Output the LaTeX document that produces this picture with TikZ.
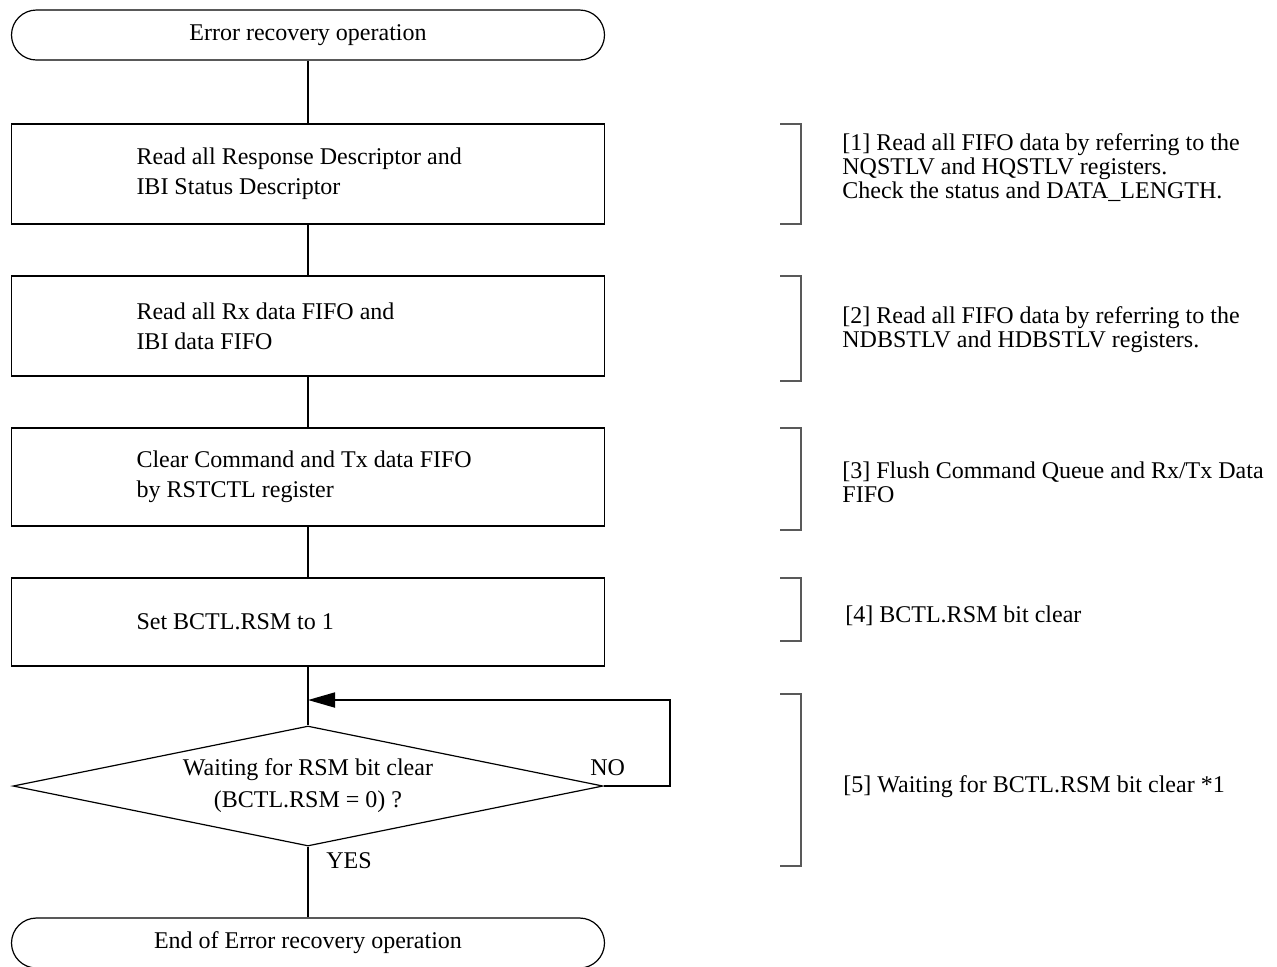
\documentclass[tikz,border=0pt]{standalone}
\usepackage{fontspec}
\setmainfont{Liberation Serif}
\usetikzlibrary{shapes.geometric,arrows.meta}

\begin{document}
\begin{tikzpicture}[
  x=0.5pt, y=-0.5pt,
  term/.style={rectangle, rounded corners=12.5pt, draw, line width=0.6pt, minimum width=296.5pt, minimum height=25pt},
  block/.style={rectangle, draw, line width=0.6pt, minimum width=296.5pt, text width=171.5pt, inner xsep=62.5pt, align=flush left},
  decision/.style={diamond, draw, line width=0.6pt, aspect=4.9, minimum width=295pt, minimum height=60pt, inner sep=0pt, align=center, font=\fontsize{12}{16}\selectfont},
  note/.style={anchor=west, align=left, inner sep=0pt, font=\fontsize{12}{12}\selectfont},
  tag/.style={inner sep=0pt},
  bracket/.style={draw=black!65, line width=0.6pt},
  flow/.style={line width=0.9pt},
  font=\fontsize{12}{15}\selectfont
]
\useasboundingbox (0,0) rectangle (1277,966);

% main flow
\node[term] (start) at (308,35) {Error recovery operation};
\node[block, below of=start, node distance=69.5pt, minimum height=50pt] (readdesc) {Read all Response Descriptor and\\IBI Status Descriptor};
\node[block, below of=readdesc, node distance=76pt, minimum height=50pt] (readfifo) {Read all Rx data FIFO and\\IBI data FIFO};
\node[block, below of=readfifo, node distance=75.5pt, minimum height=49pt] (clrfifo) {Clear Command and Tx data FIFO\\by RSTCTL register};
\node[block, below of=clrfifo, node distance=72.5pt, minimum height=44pt] (setrsm) {Set BCTL.RSM to 1};
\node[decision, below of=setrsm, node distance=82pt] (wait) {Waiting for RSM bit clear\\(BCTL.RSM = 0) ?};
\node[term, below of=wait, node distance=78.5pt] (stop) {End of Error recovery operation};

\node[tag] (no) at ([xshift=2pt,yshift=9pt]wait.east) {NO};
\node[tag, anchor=west] (yes) at ([xshift=9pt,yshift=-7pt]wait.south) {YES};
\coordinate (loop) at (670,700);

\draw[flow] (start) -- (readdesc);
\draw[flow] (readdesc) -- (readfifo);
\draw[flow] (readfifo) -- (clrfifo);
\draw[flow] (clrfifo) -- (setrsm);
\draw[flow] (setrsm) -- (wait);
\draw[flow] (wait) -- (stop);
\draw[flow, -{Triangle[length=13.5pt, width=7.5pt]}] (wait.east) -| (loop) -- (wait.north |- loop);

% step notes
\foreach \top/\bot in {124/224, 276/381, 428/530, 578/641, 694/866}
  \draw[bracket] (780,\top) -- (801,\top) -- (801,\bot) -- (780,\bot);

\node[note] (note1) at (842,168) {[1] Read all FIFO data by referring to the\\NQSTLV and HQSTLV registers.\\Check the status and DATA\_LENGTH.};
\node[note] (note2) at (842,330) {[2] Read all FIFO data by referring to the\\NDBSTLV and HDBSTLV registers.};
\node[note] (note3) at (842,482) {[3] Flush Command Queue and Rx/Tx Data\\FIFO};
\node[note] (note4) at (845,616) {[4] BCTL.RSM bit clear};
\node[note] (note5) at (843,787) {[5] Waiting for BCTL.RSM bit clear *1};
\end{tikzpicture}
\end{document}
